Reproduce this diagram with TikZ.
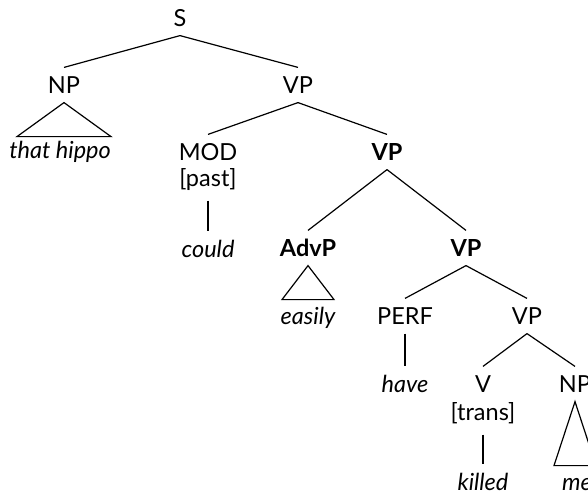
\documentclass[tikz,border=0pt]{standalone}
\usepackage{fontspec}
\setmainfont{Lato}
\usepackage{tikz}

\begin{document}
\begin{tikzpicture}[x=1pt, y=-1pt, line width=1.2pt,
  every node/.style={font=\fontsize{23.5}{28}\selectfont, inner sep=0pt, text height=16.5pt, text depth=0pt},
  cat/.style={minimum height=34pt},
  bcat/.style={cat, font=\fontsize{23.5}{28}\selectfont\bfseries},
  feat/.style={minimum height=44pt},
  lex/.style={minimum height=34pt, font=\fontsize{23.5}{28}\selectfont\itshape}]
\useasboundingbox (0,0) rectangle (588,490);
\clip (0,0) rectangle (588,490);

% Top level
\node[cat] (s) at (180,18) {S};
\node[cat] (np1) at (64,85) {NP};
\node[cat] (vp1) at (298,85) {VP};
\node[lex] (hippo) at (60,150) {that hippo};

% Modal branch
\node[cat] (mod) at (208,152) {MOD};
\node[feat] (past) at (208,178) {[past]};
\node[lex] (could) at (208,249) {could};

% Bold VP and adverb
\node[bcat] (vp2) at (387,152) {VP};
\node[bcat] (advp) at (308,248) {AdvP};
\node[bcat] (vp3) at (466,248) {VP};
\node[lex] (easily) at (308,316) {easily};

% Perfect and lower VP
\node[cat] (perf) at (405,316) {PERF};
\node[cat] (vp4) at (527,316) {VP};
\node[lex] (have) at (405,384) {have};
\node[cat] (v) at (483,384) {V};
\node[feat] (trans) at (483,412) {[trans]};
\node[lex] (killed) at (483,482) {killed};
\node[cat] (np2) at (575,384) {NP};
\node[lex] (me) at (577,482) {me};

% Branches
\draw (s.south) -- (np1.north);
\draw (s.south) -- (vp1.north);
\draw (vp1.south) -- (mod.north);
\draw (vp1.south) -- (vp2.north);
\draw (past.south) -- (could.north);
\draw (vp2.south) -- (advp.north);
\draw (vp2.south) -- (vp3.north);
\draw (vp3.south) -- (perf.north);
\draw (vp3.south) -- (vp4.north);
\draw (perf.south) -- (have.north);
\draw (vp4.south) -- (v.north);
\draw (vp4.south) -- (np2.north);
\draw (trans.south) -- (killed.north);

% Triangles
\draw (np1.south) -- ++(-47,34) -- ++(94,0) -- cycle;
\draw (advp.south) -- ++(-26,34) -- ++(52,0) -- cycle;
\draw (np2.south) -- ++(-21,64) -- ++(42,0) -- cycle;
\end{tikzpicture}
\end{document}
